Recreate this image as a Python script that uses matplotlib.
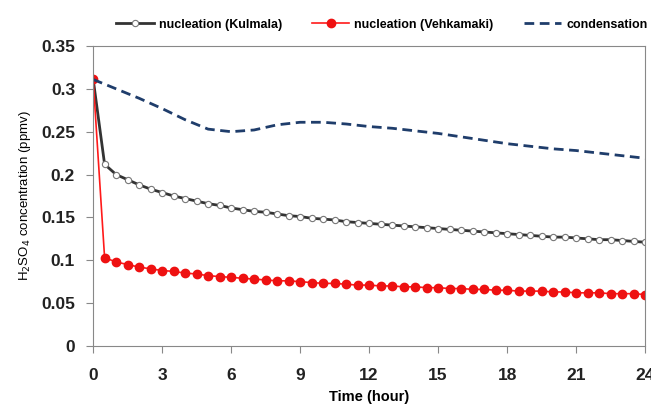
import numpy as np
import matplotlib.pyplot as plt

plt.rcParams['font.family'] = ['Liberation Sans', 'DejaVu Sans']

# half-hourly model output
hours = np.arange(0, 24.5, 0.5)
kulmala = [0.312, 0.212, 0.200, 0.194, 0.188, 0.183, 0.179, 0.175, 0.172, 0.169,
           0.166, 0.164, 0.161, 0.159, 0.157, 0.156, 0.154, 0.152, 0.151, 0.149,
           0.148, 0.147, 0.145, 0.144, 0.143, 0.142, 0.141, 0.140, 0.139, 0.138,
           0.137, 0.136, 0.135, 0.134, 0.133, 0.132, 0.131, 0.130, 0.129, 0.128,
           0.127, 0.127, 0.126, 0.125, 0.124, 0.124, 0.123, 0.122, 0.121]
vehkamaki = [0.312, 0.103, 0.098, 0.095, 0.092, 0.090, 0.088, 0.087, 0.085, 0.084,
             0.082, 0.081, 0.080, 0.079, 0.078, 0.077, 0.076, 0.076, 0.075, 0.074,
             0.073, 0.073, 0.072, 0.071, 0.071, 0.070, 0.070, 0.069, 0.069, 0.068,
             0.068, 0.067, 0.067, 0.066, 0.066, 0.065, 0.065, 0.064, 0.064, 0.064,
             0.063, 0.063, 0.062, 0.062, 0.062, 0.061, 0.061, 0.061, 0.060]

# hourly condensation-only run
cond_hours = np.arange(0, 25, 1)
condensation = [0.311, 0.300, 0.289, 0.277, 0.264, 0.253, 0.250, 0.252, 0.258, 0.261,
                0.261, 0.259, 0.256, 0.254, 0.251, 0.248, 0.244, 0.240, 0.236, 0.233,
                0.230, 0.228, 0.225, 0.222, 0.219]

fig = plt.figure(figsize=(6.51, 4.07), dpi=100)
ax = fig.add_axes([0.143, 0.150, 0.848, 0.737])

ax.plot(hours, kulmala, color='#333333', lw=2, marker='o', ms=4.5,
        mfc='white', mec='#777777', mew=0.8, label='nucleation (Kulmala)')
ax.plot(hours, vehkamaki, color='#ff1a1a', lw=1.2, marker='o', ms=6,
        mfc='#ee1111', mec='#ee1111', label='nucleation (Vehkamaki)')
ax.plot(cond_hours, condensation, color='#1f3d6b', lw=2, ls=(0, (3.5, 2)),
        label='condensation')

ax.set_xlim(0, 24)
ax.set_ylim(0, 0.35)
ax.set_xticks(np.arange(0, 25, 3))
ax.set_yticks(np.arange(0, 0.36, 0.05))
ax.set_yticklabels(['0', '0.05', '0.1', '0.15', '0.2', '0.25', '0.3', '0.35'])
ax.tick_params(labelsize=12.5, color='#888888', length=5)
ax.tick_params(axis='x', pad=11)
ax.tick_params(axis='y', pad=8)
for lab in ax.get_xticklabels() + ax.get_yticklabels():
    lab.set_fontweight('bold')
    lab.set_color('#222222')
for s in ax.spines.values():
    s.set_color('#888888')

ax.set_xlabel('Time (hour)', fontsize=10.5, fontweight='bold', labelpad=5)
ax.set_ylabel('H$_2$SO$_4$ concentration (ppmv)', fontsize=9.5, labelpad=6)

fig.legend(loc='center left', bbox_to_anchor=(0.161, 0.939), ncol=3, frameon=False,
           prop={'size': 9, 'weight': 'bold'}, handlelength=3.0,
           columnspacing=2.4, handletextpad=0.4, borderpad=0.4)

fig.savefig('out.png', dpi=100)
